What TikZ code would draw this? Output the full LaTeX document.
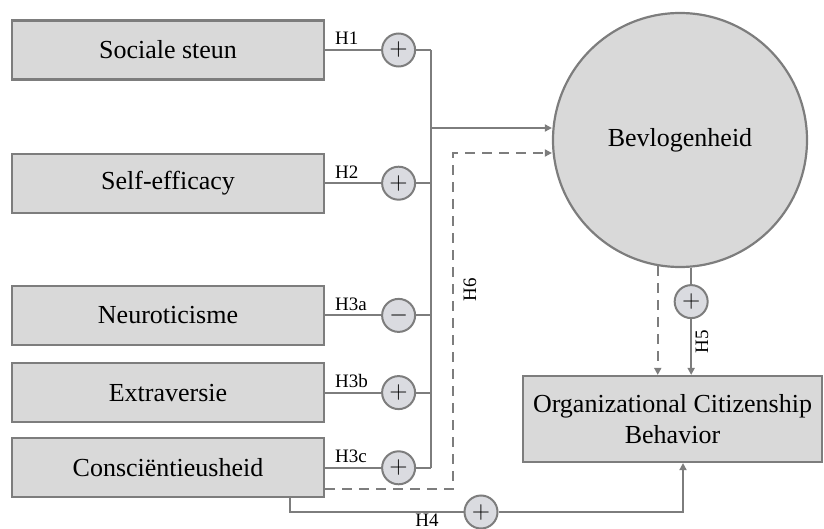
\documentclass[tikz,border=0pt]{standalone}
\usepackage{fontspec}
\setmainfont{Liberation Serif}
\usepackage{tikz}
\usetikzlibrary{arrows.meta,positioning,calc}
\usepackage{xcolor}
\definecolor{boxfill} {RGB}{217,217,217}
\definecolor{linegray}{RGB}{125,125,125}
\definecolor{signfill}{RGB}{218,219,224}

\begin{document}
\begin{tikzpicture}[x=0.5pt,y=-0.5pt,
    box/.style={rectangle,draw=linegray,line width=1.1pt,fill=boxfill,
                minimum width=156pt,minimum height=29.5pt,inner sep=2pt,align=center,
                font=\fontsize{13}{15.5}\selectfont},
    latent/.style={circle,draw=linegray,line width=1.1pt,fill=boxfill,
                minimum size=127pt,inner sep=0pt,font=\fontsize{13}{15.5}\selectfont},
    sign/.style={circle,draw=linegray,line width=1pt,fill=signfill,
                minimum size=16.5pt,inner sep=0pt,font=\fontsize{12}{12}\selectfont},
    hyp/.style={font=\fontsize{9.5}{11}\selectfont,inner sep=1pt},
    hypl/.style={hyp,pos=0,anchor=base west,xshift=3.5pt,yshift=2.5pt},
    conn/.style={draw=linegray,line width=1pt},
    arrow/.style={conn,-{Triangle[length=3.5pt,width=3.5pt]}},
    dasharrow/.style={arrow,dash pattern=on 5pt off 3.5pt}
  ]
  \useasboundingbox (0,0) rectangle (824,529);
  % predictors
  \node[box]                    (soc) at (168,50) {Sociale steun};
  \node[box,below=36pt of soc]  (eff) {Self-efficacy};
  \node[box,below=35.5pt of eff] (neu) {Neuroticisme};
  \node[box,below=8pt of neu]   (ext) {Extraversie};
  \node[box,below=7pt of ext]   (con) {Consciëntieusheid};
  % outcomes
  \node[latent] (bev) at (680,140) {Bevlogenheid};
  \node[box,minimum width=149.5pt,minimum height=43pt] (ocb) at (672.5,419)
       {Organizational Citizenship\\Behavior};
  % signs
  \node[sign,right=28pt of soc] (s1)  {$+$};
  \node[sign,right=28pt of eff] (s2)  {$+$};
  \node[sign,right=28pt of neu] (s3a) {$-$};
  \node[sign,right=28pt of ext] (s3b) {$+$};
  \node[sign,right=28pt of con] (s3c) {$+$};
  \node[sign] (s5) at ($(bev.-85)+(0,34)$) {$+$};
  \node[sign] (s4) at (481,512) {$+$};
  % H1--H3c
  \coordinate (bus)    at (431,0);
  \coordinate (busout) at (431,128);
  \draw[conn] (soc) -- node[hypl]{H1}  (s1)  -- (s1 -| bus);
  \draw[conn] (eff) -- node[hypl]{H2}  (s2)  -- (s2 -| bus);
  \draw[conn] (neu) -- node[hypl]{H3a} (s3a) -- (s3a -| bus);
  \draw[conn] (ext) -- node[hypl]{H3b} (s3b) -- (s3b -| bus);
  \draw[conn] (con) -- node[hypl]{H3c} (s3c) -- (s3c -| bus);
  \draw[conn] (s1 -| bus) -- (s3c -| bus);
  \draw[arrow] (busout) -- (busout -| bev.west);
  % H6
  \coordinate (h6) at (453,153);
  \draw[dasharrow] ($(con.east)+(0,21)$) -| (h6) -- (h6 -| bev.west);
  \node[hyp,rotate=90] (h6lab) at (470,290) {H6};
  % H5
  \draw[conn] (bev.-85) -- (s5);
  \draw[arrow] (s5) -- (s5 |- ocb.north);
  \draw[dasharrow] (bev.-100) -- (bev.-100 |- ocb.north);
  \node[hyp,rotate=90] (h5lab) at (702,342) {H5};
  % H4
  \coordinate (h4s) at ($(con.south)+(122,0)$);
  \draw[conn] (h4s) |- (s4);
  \draw[arrow] (s4) -| ($(ocb.south)+(10.5,0)$);
  \node[hyp] (h4lab) at (427,520) {H4};
\end{tikzpicture}
\end{document}
